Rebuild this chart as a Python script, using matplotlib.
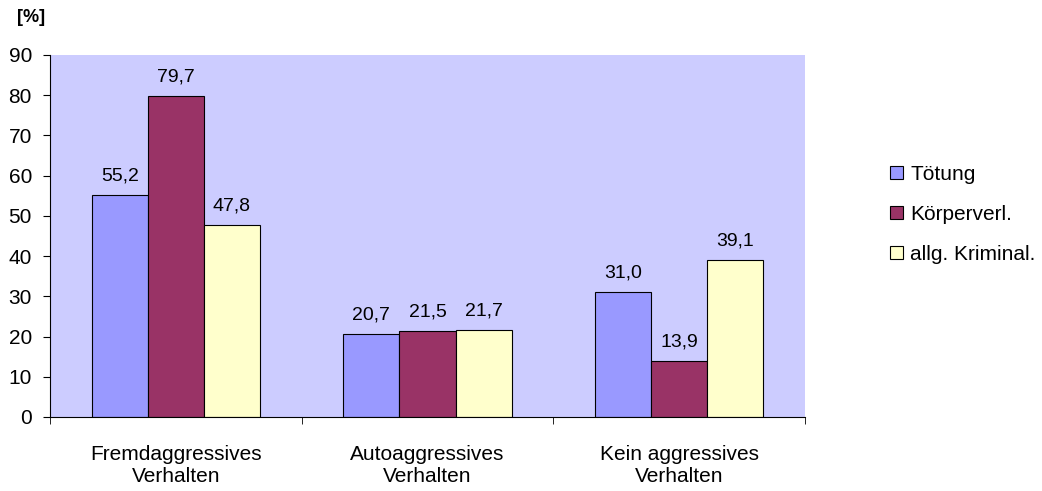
import matplotlib
matplotlib.use("Agg")
import matplotlib.pyplot as plt
import numpy as np

categories = ["Fremdaggressives\nVerhalten", "Autoaggressives\nVerhalten", "Kein aggressives\nVerhalten"]
series_names = ["Tötung", "Körperverl.", "allg. Kriminal."]
toetung = [55.2, 20.7, 31.0]
koerperverl = [79.7, 21.5, 13.9]
allg_kriminal = [47.8, 21.7, 39.1]
colors = ["#9999FF", "#993366", "#FFFFCC"]

plt.rcParams['font.family'] = ['Liberation Sans', 'DejaVu Sans']

fig = plt.figure(figsize=(10.42, 4.91), dpi=100)
ax = fig.add_axes([50/1042, 1 - 417/491, 755/1042, 362/491])
ax.set_facecolor("#CCCCFF")

x = np.arange(len(categories))
width = 0.223
series = [toetung, koerperverl, allg_kriminal]
for i, (vals, name, col) in enumerate(zip(series, series_names, colors)):
    bars = ax.bar(x + (i - 1) * width, vals, width, color=col, edgecolor="black",
                  linewidth=0.8, label=name)
    for b, v in zip(bars, vals):
        ax.text(b.get_x() + b.get_width() / 2, v + 2.6, f"{v:.1f}".replace(".", ","),
                ha="center", va="bottom", fontsize=14)

ax.set_xlim(-0.5, len(categories) - 0.5)
ax.set_ylim(0, 90)
ax.set_yticks(np.arange(0, 91, 10))
ax.tick_params(axis="y", labelsize=15, length=5, direction="out", pad=8)
ax.set_xticks(x)
ax.set_xticklabels(categories, fontsize=15, linespacing=1.2)
ax.tick_params(axis="x", length=0, pad=20)
# category boundary tick marks
ax.set_xticks(np.arange(-0.5, len(categories), 1), minor=True)
ax.tick_params(axis="x", which="minor", length=5, direction="out")

for s in ["top", "right"]:
    ax.spines[s].set_visible(False)
ax.spines["left"].set_linewidth(0.8)
ax.spines["bottom"].set_linewidth(0.8)

fig.text(17/1042, 1 - 18/491, "[%]", fontsize=13, fontweight="bold", ha="left", va="center")

ax.legend(loc="center left", bbox_to_anchor=(1.102, 0.56), frameon=False, fontsize=15,
          handlelength=0.6, handleheight=0.6, handletextpad=0.35, labelspacing=1.0,
          borderaxespad=0)

fig.savefig("out.png", dpi=100)
